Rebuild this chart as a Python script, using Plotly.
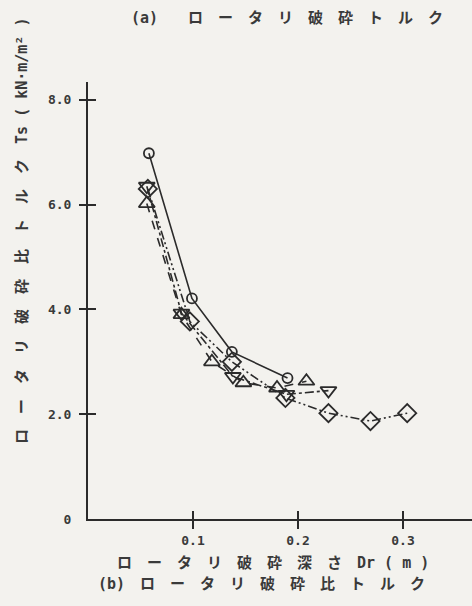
import plotly.graph_objects as go

# --- data ---
circle_x = [0.058, 0.099, 0.137, 0.190]
circle_y = [6.98, 4.21, 3.19, 2.69]

tri_up_x = [0.056, 0.089, 0.118, 0.148, 0.180, 0.208]
tri_up_y = [6.02, 3.90, 3.00, 2.60, 2.50, 2.63]

tri_down_x = [0.056, 0.089, 0.138, 0.189, 0.229]
tri_down_y = [6.35, 3.93, 2.72, 2.38, 2.45]

diamond_x = [0.057, 0.097, 0.137, 0.188, 0.229, 0.269, 0.304]
diamond_y = [6.30, 3.77, 3.00, 2.31, 2.02, 1.87, 2.02]

x_ticks = [0.1, 0.2, 0.3]
x_tick_labels = ["0.1", "0.2", "0.3"]
y_ticks = [0, 2, 4, 6, 8]
y_tick_labels = ["0", "2.0", "4.0", "6.0", "8.0"]
y_mark_ticks = [2, 4, 6, 8]

title_top = "(a)　　ロ　ー　タ　リ　破　砕　ト　ル　ク"
y_title = "ロ　ー　タ　リ　破　砕　比　ト　ル　ク　Ts ( kN·m/m² )"
x_title = "ロ　ー　タ　リ　破　砕　深　さ　Dr ( m )"
caption = "(b)　ロ　ー　タ　リ　破　砕　比　ト　ル　ク"

BG = "#f3f2ee"
INK = "#2b2b2b"
TXT = "#3a3a3a"
FONT = "DejaVu Sans Mono, Noto Sans CJK JP"

fig = go.Figure()

series = [
    (circle_x, circle_y, "circle-open", 10, "solid"),
    (tri_up_x, tri_up_y, "triangle-up-open", 14, "dash"),
    (tri_down_x, tri_down_y, "triangle-down-open", 14, "dashdot"),
    (diamond_x, diamond_y, "diamond-open", 14, "9px,3px,2px,3px,2px,3px"),
]
for xs, ys, sym, size, dash in series:
    fig.add_trace(go.Scatter(
        x=xs, y=ys, mode="lines+markers",
        line=dict(color=INK, width=1.6, dash=dash),
        marker=dict(symbol=sym, size=size, color=INK, line=dict(color=INK, width=1.8)),
        showlegend=False,
    ))

# empty traces so the overlay tick axes exist
fig.add_trace(go.Scatter(x=[], y=[], xaxis="x2", yaxis="y2", showlegend=False))
fig.add_trace(go.Scatter(x=[], y=[], xaxis="x", yaxis="y3", showlegend=False))

XR = [0, 0.3657]
YR = [0, 8.34]

fig.update_layout(
    width=472, height=606,
    margin=dict(l=88, r=0, t=82, b=87),
    paper_bgcolor=BG, plot_bgcolor=BG,
    font=dict(family=FONT, color=TXT, size=12),
    xaxis=dict(
        range=XR, showgrid=False, zeroline=False,
        showline=True, linecolor=INK, linewidth=2,
        tickvals=x_ticks, ticktext=x_tick_labels,
        ticks="outside", ticklen=8, tickwidth=2, tickcolor=INK,
        tickfont=dict(family=FONT, size=13, color=TXT, weight="bold"),
    ),
    xaxis2=dict(
        range=XR, overlaying="x", anchor="y", showgrid=False, zeroline=False,
        showline=False, tickvals=x_ticks, showticklabels=False,
        ticks="inside", ticklen=8, tickwidth=2, tickcolor=INK,
    ),
    yaxis=dict(
        range=YR, showgrid=False, zeroline=False,
        showline=True, linecolor=INK, linewidth=2,
        tickvals=y_ticks, ticktext=y_tick_labels, ticks="",
        ticklabelstandoff=12,
        tickfont=dict(family=FONT, size=13, color=TXT, weight="bold"),
    ),
    yaxis2=dict(
        range=YR, overlaying="y", anchor="x", side="left", showgrid=False,
        zeroline=False, showline=False, tickvals=y_mark_ticks,
        showticklabels=False, ticks="outside", ticklen=8, tickwidth=2, tickcolor=INK,
    ),
    yaxis3=dict(
        range=YR, overlaying="y", anchor="x", side="left", showgrid=False,
        zeroline=False, showline=False, tickvals=y_mark_ticks,
        showticklabels=False, ticks="inside", ticklen=8, tickwidth=2, tickcolor=INK,
    ),
)

def ann(text, x, y, angle=0, size=15):
    fig.add_annotation(
        text=text, x=x, y=y, xref="paper", yref="paper",
        xanchor="center", yanchor="middle", textangle=angle, showarrow=False,
        font=dict(family=FONT, size=size, color=TXT, weight="bold"),
    )

ann(title_top, 0.518, 1.146)
ann(y_title, -0.172, 0.659, angle=-90)
ann(x_title, 0.482, -0.1007)
ann(caption, 0.453, -0.149)

fig.write_html("out.html")
